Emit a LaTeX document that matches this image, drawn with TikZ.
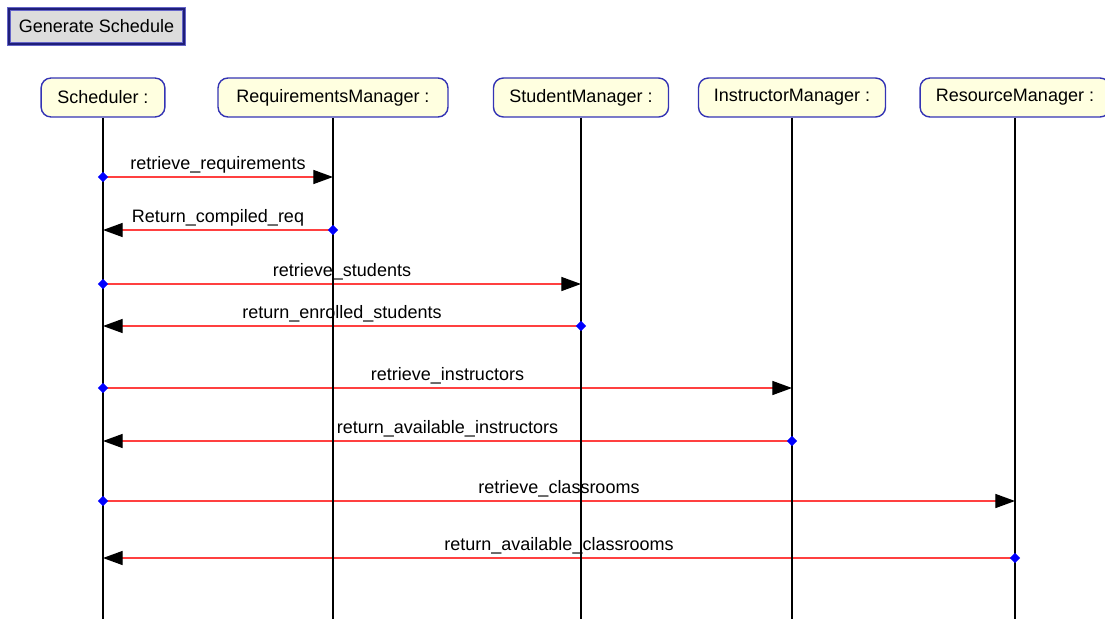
\documentclass[tikz,border=0pt]{standalone}
\usepackage{fontspec}
\setmainfont{Liberation Sans}
\usepackage{tikz}
\usetikzlibrary{arrows.meta, shapes.geometric, backgrounds}
\pgfdeclarelayer{background}
\pgfsetlayers{background,main}

\definecolor{hdFill}{RGB}{255,255,224}
\definecolor{hdLine}{RGB}{52,52,180}
\definecolor{msgRed}{RGB}{255,64,64}
\definecolor{btnFill}{RGB}{220,220,220}
\definecolor{btnOut}{RGB}{100,100,200}
\definecolor{btnIn}{RGB}{30,30,120}

\begin{document}
\begin{tikzpicture}[x=0.025cm, y=-0.025cm]

    % Font
    \fontsize{12.8}{15}\selectfont

    % Lifeline heads
    \tikzset{hd/.style={draw=hdLine, fill=hdFill, line width=1pt, rounded corners=7pt, minimum height=27.7pt, inner sep=0pt}}
    \tikzset{lL/.style={draw=black, line width=0.9pt}}

    % Messages
    \tikzset{msg/.style={draw=msgRed, line width=0.9pt, -{Triangle[length=14pt, width=10pt, black]}}}
    \tikzset{lbl/.style={midway, anchor=base, yshift=5pt, inner sep=0pt}}
    \tikzset{src/.style={shape=diamond, fill=blue, inner sep=0pt, minimum size=7.5pt}}

    % Button
    \tikzset{btn/.style={draw=btnOut, double=btnIn, line width=0.6pt, double distance=1.4pt, fill=btnFill, minimum width=124pt, minimum height=24.5pt, inner sep=0pt}}

    \useasboundingbox (0,0) rectangle (1105,619);

    % Button
    \node (gen) [btn] at (96.5,26.5) {Generate Schedule};

    % Heads
    \node (sch) [hd, minimum width=88pt] at (103,97.5) {Scheduler :};
    \node (req) [hd, minimum width=163.5pt] at (333,97.5) {RequirementsManager :};
    \node (stu) [hd, minimum width=124.5pt] at (581,97.5) {StudentManager :};
    \node (ins) [hd, minimum width=133pt] at (792,97.5) {InstructorManager :};
    \node (res) [hd, minimum width=135pt] at (1015,97.5) {ResourceManager :};

    % Lifeline ends
    \coordinate (schB) at (103,619);
    \coordinate (reqB) at (333,619);
    \coordinate (stuB) at (581,619);
    \coordinate (insB) at (792,619);
    \coordinate (resB) at (1015,619);

    % Message ends
    \coordinate (m1s) at (103,177); \coordinate (m1t) at (333,177);
    \coordinate (m2s) at (333,230); \coordinate (m2t) at (103,230);
    \coordinate (m3s) at (103,284); \coordinate (m3t) at (581,284);
    \coordinate (m4s) at (581,326); \coordinate (m4t) at (103,326);
    \coordinate (m5s) at (103,388); \coordinate (m5t) at (792,388);
    \coordinate (m6s) at (792,441); \coordinate (m6t) at (103,441);
    \coordinate (m7s) at (103,501); \coordinate (m7t) at (1015,501);
    \coordinate (m8s) at (1015,558); \coordinate (m8t) at (103,558);

    % Messages, under the lifelines
    \begin{pgfonlayer}{background}

    	\path[msg] (m1s) -- node[lbl] {retrieve\_requirements} (m1t);
    	\path[msg] (m2s) -- node[lbl] {Return\_compiled\_req} (m2t);
    	\path[msg] (m3s) -- node[lbl] {retrieve\_students} (m3t);
    	\path[msg] (m4s) -- node[lbl] {return\_enrolled\_students} (m4t);
    	\path[msg] (m5s) -- node[lbl] {retrieve\_instructors} (m5t);
    	\path[msg] (m6s) -- node[lbl] {return\_available\_instructors} (m6t);
    	\path[msg] (m7s) -- node[lbl] {retrieve\_classrooms} (m7t);
    	\path[msg] (m8s) -- node[lbl] {return\_available\_classrooms} (m8t);

    \end{pgfonlayer}

    % Lifelines
    \path[lL] (sch) -- (schB);
    \path[lL] (req) -- (reqB);
    \path[lL] (stu) -- (stuB);
    \path[lL] (ins) -- (insB);
    \path[lL] (res) -- (resB);

    % Sources
    \node (d1) [src] at (m1s) {};
    \node (d2) [src] at (m2s) {};
    \node (d3) [src] at (m3s) {};
    \node (d4) [src] at (m4s) {};
    \node (d5) [src] at (m5s) {};
    \node (d6) [src] at (m6s) {};
    \node (d7) [src] at (m7s) {};
    \node (d8) [src] at (m8s) {};

\end{tikzpicture}
\end{document}
